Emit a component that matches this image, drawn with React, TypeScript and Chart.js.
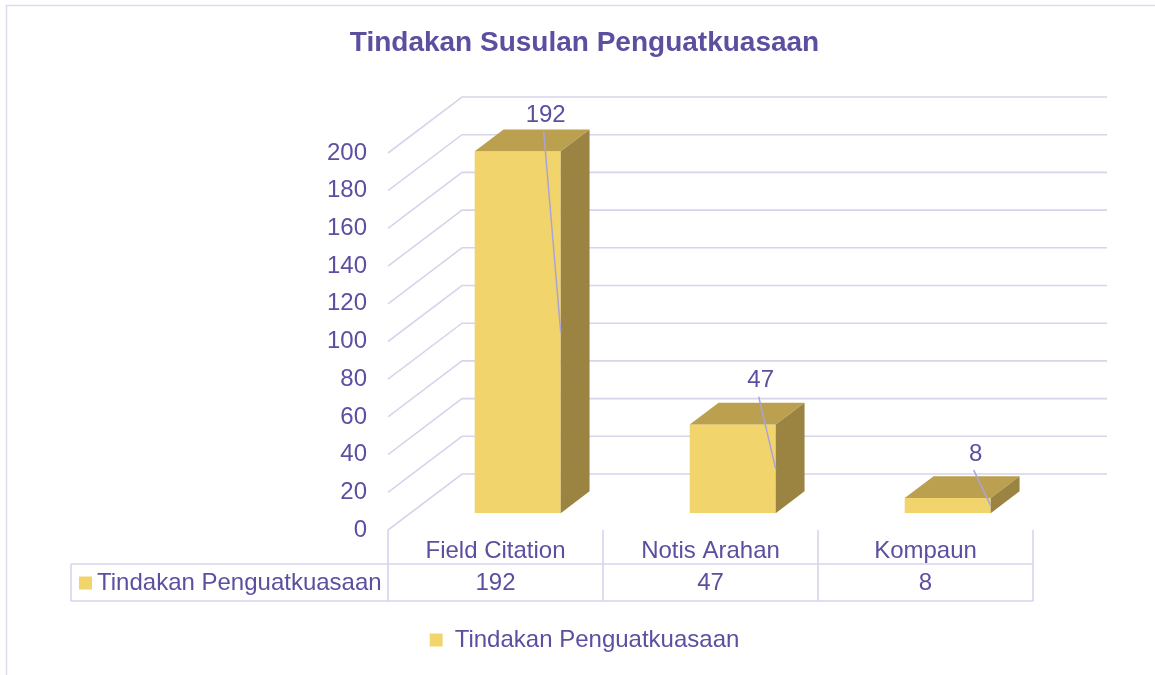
import React, { useEffect, useRef } from 'react';
import { Chart, registerables } from 'chart.js';

Chart.register(...registerables);

// ---- data ----
const categories = ['Field Citation', 'Notis Arahan', 'Kompaun'];
const seriesName = 'Tindakan Penguatkuasaan';
const seriesValues = [192, 47, 8];
const titleText = 'Tindakan Susulan Penguatkuasaan';
const yMin = 0;
const yMax = 200;
const yStep = 20;

// ---- style ----
const FONT = "'Liberation Sans', Arial, sans-serif";
const TEXT = '#5B4FA0';
const GRID = '#D7D4EC';
const FRAME = '#DCDAF0';
const LEADER = '#A9A4D8';
const FRONT = '#F2D46C';
const TOPC = '#BBA14F';
const SIDEC = '#9B8441';
const DX = 74; // depth offset of back wall
const DY = -56;
const BAR_OFF = 0.3; // bar front at 30% depth
const BAR_DEPTH = 0.39;
const PAD_LEFT = 14;

const threeD = {
  id: 'threeD',
  beforeDraw(chart: any) {
    const { ctx } = chart;
    ctx.save();
    ctx.strokeStyle = FRAME;
    ctx.lineWidth = 1.5;
    ctx.strokeRect(6.5, 5.5, 1200, 720);
    ctx.restore();
  },
  beforeDatasetsDraw(chart: any) {
    const { ctx, chartArea, scales } = chart;
    const { left, right } = chartArea;
    const y = scales.y;
    ctx.save();
    ctx.strokeStyle = GRID;
    ctx.lineWidth = 1.6;
    for (let v = yMin; v <= yMax; v += yStep) {
      const py = y.getPixelForValue(v);
      ctx.beginPath();
      ctx.moveTo(left, py);
      ctx.lineTo(left + DX, py + DY);
      ctx.lineTo(right + DX, py + DY);
      ctx.stroke();
    }
    ctx.restore();
    // shift the bars to their depth position
    ctx.save();
    ctx.translate(DX * BAR_OFF, DY * BAR_OFF);
  },
  afterDatasetsDraw(chart: any) {
    const { ctx, chartArea, scales } = chart;
    const meta = chart.getDatasetMeta(0);
    const bx = DX * BAR_DEPTH;
    const by = DY * BAR_DEPTH;
    meta.data.forEach((el: any) => {
      const p = el.getProps(['x', 'y', 'base', 'width'], true);
      const xl = p.x - p.width / 2;
      const xr = p.x + p.width / 2;
      const yt = Math.min(p.y, p.base);
      const yb = Math.max(p.y, p.base);
      ctx.fillStyle = TOPC;
      ctx.beginPath();
      ctx.moveTo(xl, yt);
      ctx.lineTo(xr, yt);
      ctx.lineTo(xr + bx, yt + by);
      ctx.lineTo(xl + bx, yt + by);
      ctx.closePath();
      ctx.fill();
      ctx.fillStyle = SIDEC;
      ctx.beginPath();
      ctx.moveTo(xr, yt);
      ctx.lineTo(xr + bx, yt + by);
      ctx.lineTo(xr + bx, yb + by);
      ctx.lineTo(xr, yb);
      ctx.closePath();
      ctx.fill();
    });
    ctx.restore();

    // data labels with leader lines
    const ox = DX * BAR_OFF;
    const oy = DY * BAR_OFF;
    ctx.save();
    ctx.font = `24px ${FONT}`;
    ctx.textAlign = 'center';
    ctx.textBaseline = 'middle';
    meta.data.forEach((el: any, i: number) => {
      const p = el.getProps(['x', 'y', 'base', 'width'], true);
      const fx = p.x + ox;
      const top = p.y + oy;
      const bot = p.base + oy;
      const lx = fx + p.width / 2 - 15;
      const ly = Math.max(top - 45, chartArea.top - 39);
      ctx.strokeStyle = LEADER;
      ctx.lineWidth = 1.5;
      ctx.beginPath();
      ctx.moveTo(lx - 2, ly + 17);
      ctx.lineTo(fx + p.width / 2, (top + bot) / 2);
      ctx.stroke();
      ctx.fillStyle = TEXT;
      ctx.fillText(String(seriesValues[i]), lx, ly + 1);
    });
    ctx.restore();

    // data table
    const x = scales.x;
    const n = categories.length;
    const colW = (chartArea.right - chartArea.left) / n;
    const rowTop = 564;
    const rowBot = 601;
    const tableLeft = 71;
    ctx.save();
    ctx.strokeStyle = GRID;
    ctx.lineWidth = 1.6;
    ctx.beginPath();
    ctx.moveTo(tableLeft, rowTop);
    ctx.lineTo(chartArea.right, rowTop);
    ctx.moveTo(tableLeft, rowBot);
    ctx.lineTo(chartArea.right, rowBot);
    ctx.moveTo(tableLeft, rowTop);
    ctx.lineTo(tableLeft, rowBot);
    for (let i = 0; i <= n; i++) {
      const vx = chartArea.left + i * colW;
      ctx.moveTo(vx, chartArea.bottom);
      ctx.lineTo(vx, rowBot);
    }
    ctx.stroke();
    const rowMid = (rowTop + rowBot) / 2 + 1;
    ctx.fillStyle = FRONT;
    ctx.fillRect(79, rowMid - 7, 13, 13);
    ctx.font = `24px ${FONT}`;
    ctx.fillStyle = TEXT;
    ctx.textBaseline = 'middle';
    ctx.textAlign = 'left';
    ctx.fillText(seriesName, 97, rowMid);
    ctx.textAlign = 'center';
    seriesValues.forEach((v, i) => {
      ctx.fillText(String(v), x.getPixelForValue(i), rowMid);
    });
    ctx.restore();
  },
};

export default function App() {
  const ref = useRef<HTMLCanvasElement | null>(null);
  useEffect(() => {
    if (!ref.current) return;
    const chart = new Chart(ref.current, {
      type: 'bar',
      data: {
        labels: categories,
        datasets: [
          {
            label: seriesName,
            data: seriesValues,
            backgroundColor: FRONT,
            borderWidth: 0,
            barPercentage: 0.4,
            categoryPercentage: 1,
          },
        ],
      },
      options: {
        animation: false,
        responsive: false,
        maintainAspectRatio: false,
        layout: { padding: { left: PAD_LEFT, right: 0, top: 0, bottom: 13 } },
        plugins: {
          tooltip: { enabled: false },
          title: {
            display: true,
            text: titleText,
            color: TEXT,
            font: { family: FONT, size: 28, weight: 'bold' },
            padding: { top: 26, bottom: 93.4 },
          },
          legend: {
            display: true,
            position: 'bottom',
            labels: {
              color: TEXT,
              font: { family: FONT, size: 24 },
              boxWidth: 13,
              boxHeight: 13,
              padding: 10,
            },
          },
        },
        scales: {
          x: {
            grid: { display: false, drawTicks: false },
            border: { display: false },
            ticks: { color: TEXT, font: { family: FONT, size: 24 }, padding: 7 },
            afterFit: (s: any) => {
              s.height = 88;
            },
          },
          y: {
            min: yMin,
            max: yMax,
            grid: { display: false, drawTicks: false },
            border: { display: false },
            ticks: { stepSize: yStep, color: TEXT, font: { family: FONT, size: 24 }, padding: 21 },
            afterFit: (s: any) => {
              s.width = 388 - PAD_LEFT;
            },
          },
          yR: {
            type: 'linear',
            position: 'right',
            display: true,
            grid: { display: false, drawTicks: false },
            border: { display: false },
            ticks: { display: false },
            afterFit: (s: any) => {
              s.width = 122;
            },
          },
        },
      } as any,
      plugins: [threeD],
    });
    return () => chart.destroy();
  }, []);
  return (
    <div style={{ position: 'fixed', left: 0, top: 0, width: 1155, height: 675, background: '#fff' }}>
      <canvas ref={ref} width={1155} height={675} style={{ display: 'block', width: 1155, height: 675 }} />
    </div>
  );
}
